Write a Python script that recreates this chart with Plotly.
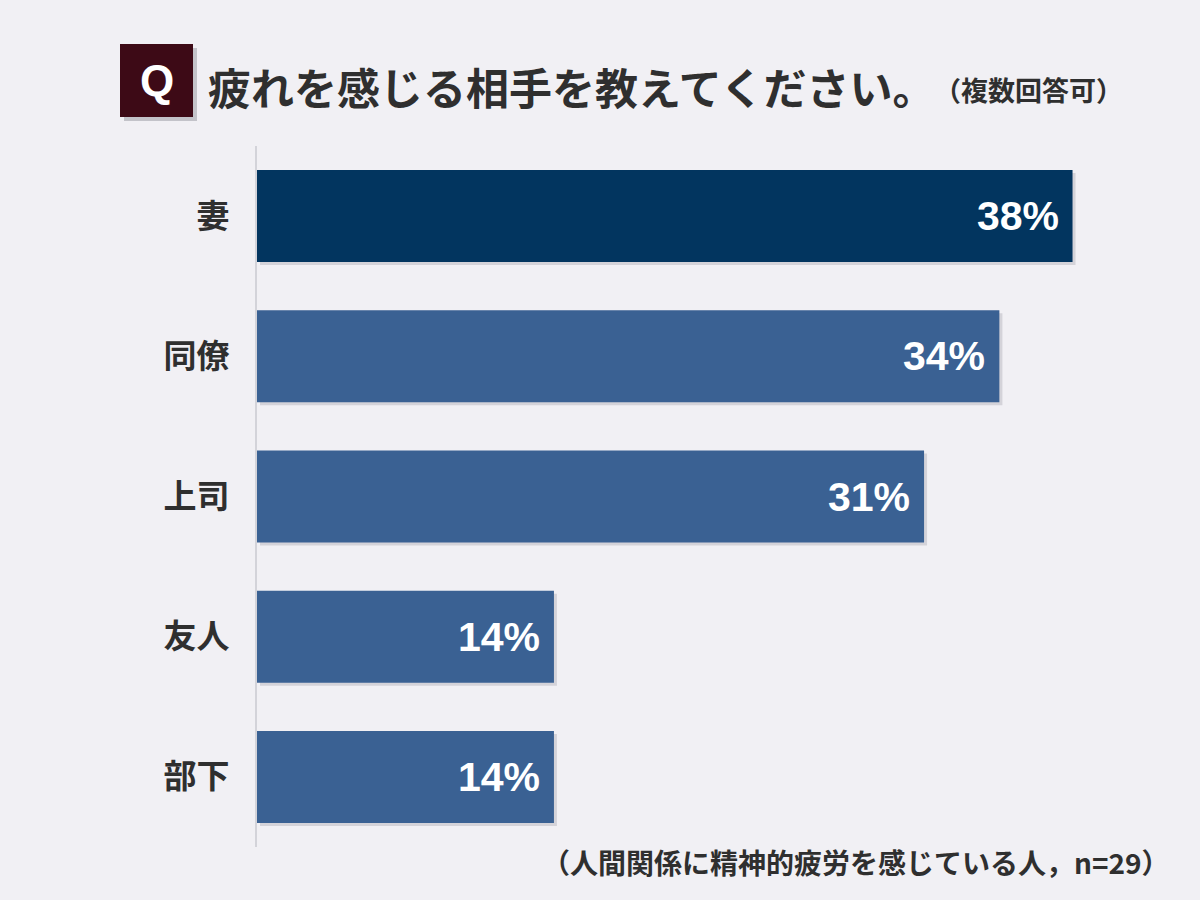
import plotly.graph_objects as go

# ---- data ----
categories = ["妻", "同僚", "上司", "友人", "部下"]
values = [37.9, 34.5, 31.0, 13.8, 13.8]
value_labels = ["38%", "34%", "31%", "14%", "14%"]
bar_colors = ["#02355f", "#3a6193", "#3a6193", "#3a6193", "#3a6193"]

title_text = "疲れを感じる相手を教えてください。"
subtitle_text = "（複数回答可）"
footnote_text = "（人間関係に精神的疲労を感じている人，n=29）"

# ---- layout geometry (pixels) ----
W, H = 1200, 900
ML, MR, MT, MB = 257, 50, 146, 53
PW = W - ML - MR
PH = H - MT - MB

def px(x):
    return (x - ML) / PW

def py(y):
    return (H - MB - y) / PH

BG = "#f1f0f4"
CJK = "Noto Sans CJK JP"
TEXT = "#2f2f2f"

bar_w = 0.656
unit_px = PW / 41.5

fig = go.Figure()

# soft shadow behind bars
fig.add_trace(go.Bar(
    x=values, y=categories, orientation="h",
    base=3 / unit_px, width=bar_w, offset=-bar_w / 2 + 3 / 140.2,
    marker=dict(color="rgba(60,60,80,0.16)", line=dict(width=0)),
    hoverinfo="skip", showlegend=False,
))

fig.add_trace(go.Bar(
    x=values, y=categories, orientation="h",
    width=bar_w,
    marker=dict(color=bar_colors, line=dict(width=0)),
    showlegend=False,
))

annotations = []
for c, v, lab in zip(categories, values, value_labels):
    annotations.append(dict(
        x=v, y=c, xref="x", yref="y", text=lab, showarrow=False,
        xanchor="right", yanchor="middle", xshift=-12,
        font=dict(family="Liberation Sans, Arial", size=41, color="white", weight="bold"),
    ))

annotations += [
    dict(x=px(206), y=py(86), xref="paper", yref="paper", text=title_text,
         showarrow=False, xanchor="left", yanchor="middle",
         font=dict(family=CJK, size=43, color=TEXT, weight="bold")),
    dict(x=px(932), y=py(89), xref="paper", yref="paper", text=subtitle_text,
         showarrow=False, xanchor="left", yanchor="middle",
         font=dict(family=CJK, size=27, color=TEXT, weight="bold")),
    dict(x=px(156.5), y=py(80), xref="paper", yref="paper", text="Q",
         showarrow=False, xanchor="center", yanchor="middle",
         font=dict(family="Liberation Sans, Arial", size=44, color="white", weight="bold")),
    dict(x=px(1172), y=py(862), xref="paper", yref="paper", text=footnote_text,
         showarrow=False, xanchor="right", yanchor="middle",
         font=dict(family=CJK, size=28, color=TEXT, weight="bold")),
]

shapes = [
    dict(type="rect", xref="paper", yref="paper",
         x0=px(124), x1=px(197), y0=py(121), y1=py(48),
         fillcolor="rgba(60,60,70,0.25)", line=dict(width=0), layer="below"),
    dict(type="rect", xref="paper", yref="paper",
         x0=px(120), x1=px(193), y0=py(117), y1=py(44),
         fillcolor="#3d0a16", line=dict(width=0), layer="below"),
]

fig.update_layout(
    width=W, height=H,
    margin=dict(l=ML, r=MR, t=MT, b=MB, pad=0),
    paper_bgcolor=BG, plot_bgcolor=BG,
    barmode="overlay",
    showlegend=False,
    annotations=annotations,
    shapes=shapes,
    xaxis=dict(range=[0, 41.5], visible=False, fixedrange=True),
    yaxis=dict(
        autorange="reversed", showline=True, linecolor="#d3d3d9", linewidth=2,
        showgrid=False, zeroline=False, ticks="", ticklabelstandoff=19,
        tickfont=dict(family=CJK, size=33, color=TEXT, weight="bold"),
        fixedrange=True,
    ),
)

fig.write_html("out.html")
